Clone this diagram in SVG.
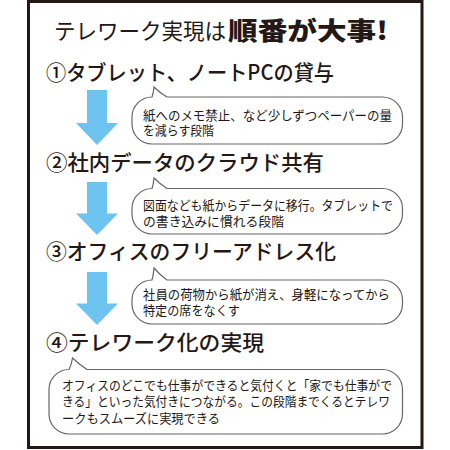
<svg xmlns="http://www.w3.org/2000/svg" width="450" height="450" viewBox="0 0 450 450">
<style>
text{font-family:"Noto Sans CJK JP","Noto Sans CJK SC",sans-serif;fill:#231815}
.t{font-size:22px;font-weight:400}
.tb{font-size:25px;font-weight:900}
.h{font-size:21px;font-weight:500}
.b{font-size:13px;font-weight:400}
.bub{fill:#fff;stroke:#666;stroke-width:1.2}
.arr{fill:#6dc4f0}
</style>
<rect x="0" y="0" width="450" height="450" fill="#fff"/>
<rect x="28.5" y="1.5" width="393.5" height="446" fill="#fff" stroke="#231815" stroke-width="3"/>
<g id="title">
<text class="t" x="54" y="39" textLength="172" lengthAdjust="spacingAndGlyphs">テレワーク実現は</text>
<text class="tb" x="228" y="40" textLength="160" lengthAdjust="spacingAndGlyphs">順番が大事!</text>
</g>
<g id="connectors">
<path class="arr" d="M87,90 H107 V123 H118 L97,145 L76,123 H87 Z"/>
<path class="arr" d="M87,182 H107 V213.5 H118 L97,235 L76,213.5 H87 Z"/>
<path class="arr" d="M87,272 H107 V303.5 H118 L97,325 L76,303.5 H87 Z"/>
</g>
<g id="step1">
<text class="h" x="46" y="80" textLength="288" lengthAdjust="spacingAndGlyphs">①タブレット、ノートPCの貸与</text>
</g>
<g id="note1">
<path class="bub" d="M167,97 H382.5 A20,20 0 0 1 402.5,117 V124 A20,20 0 0 1 382.5,144 H152 A20,20 0 0 1 132,124 V117 A20,20 0 0 1 152,97 Q153.5,93 154,87 Q160,93 167,97 Z"/>
<text class="b" x="143" y="119.5" textLength="249" lengthAdjust="spacingAndGlyphs">紙へのメモ禁止、など少しずつペーパーの量</text>
<text class="b" x="143" y="135" textLength="71" lengthAdjust="spacingAndGlyphs">を減らす段階</text>
</g>
<g id="step2">
<text class="h" x="46" y="169.5" textLength="278" lengthAdjust="spacingAndGlyphs">②社内データのクラウド共有</text>
</g>
<g id="note2">
<path class="bub" d="M167,188.5 H382.5 A20,20 0 0 1 402.5,208.5 V214 A20,20 0 0 1 382.5,234 H152 A20,20 0 0 1 132,214 V208.5 A20,20 0 0 1 152,188.5 Q153.5,184 154,178 Q160,184 167,188.5 Z"/>
<text class="b" x="143" y="210" textLength="250" lengthAdjust="spacingAndGlyphs">図面なども紙からデータに移行。タブレットで</text>
<text class="b" x="143" y="225.5" textLength="141" lengthAdjust="spacingAndGlyphs">の書き込みに慣れる段階</text>
</g>
<g id="step3">
<text class="h" x="46" y="258.5" textLength="290" lengthAdjust="spacingAndGlyphs">③オフィスのフリーアドレス化</text>
</g>
<g id="note3">
<path class="bub" d="M167,280 H382.5 A20,20 0 0 1 402.5,300 V304 A20,20 0 0 1 382.5,324 H152 A20,20 0 0 1 132,304 V300 A20,20 0 0 1 152,280 Q153.5,275 154,268 Q160,275 167,280 Z"/>
<text class="b" x="143" y="299" textLength="247" lengthAdjust="spacingAndGlyphs">社員の荷物から紙が消え、身軽になってから</text>
<text class="b" x="143" y="315" textLength="97" lengthAdjust="spacingAndGlyphs">特定の席をなくす</text>
</g>
<g id="step4">
<text class="h" x="46" y="349.5" textLength="218" lengthAdjust="spacingAndGlyphs">④テレワーク化の実現</text>
</g>
<g id="note4">
<path class="bub" d="M87,369.5 H382.5 A20,20 0 0 1 402.5,389.5 V414 A20,20 0 0 1 382.5,434 H69 A20,20 0 0 1 49,414 V389.5 A20,20 0 0 1 69,369.5 Q71.5,365 72.5,358 Q80,365 87,369.5 Z"/>
<text class="b" x="62" y="390" textLength="330" lengthAdjust="spacingAndGlyphs">オフィスのどこでも仕事ができると気付くと「家でも仕事がで</text>
<text class="b" x="62" y="406" textLength="328" lengthAdjust="spacingAndGlyphs">きる」といった気付きにつながる。この段階までくるとテレワ</text>
<text class="b" x="62" y="423" textLength="158" lengthAdjust="spacingAndGlyphs">ークもスムーズに実現できる</text>
</g>
</svg>
